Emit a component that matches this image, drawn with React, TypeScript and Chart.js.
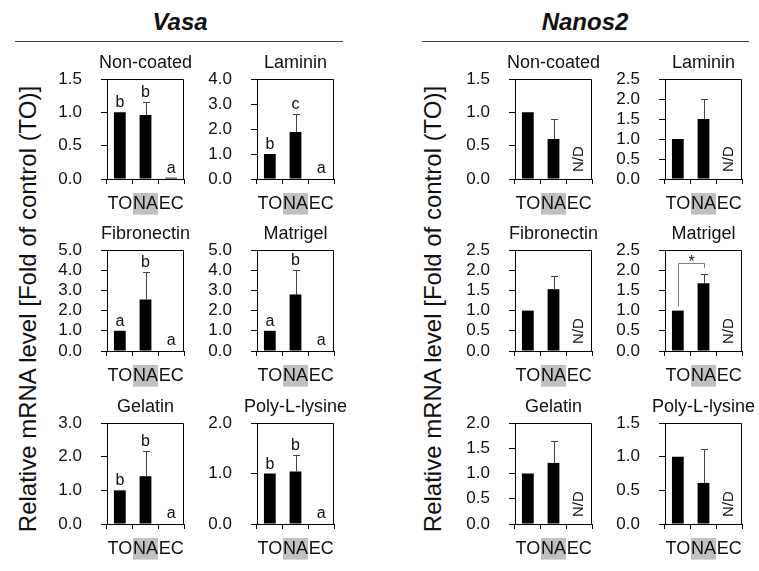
import React, { useEffect, useRef } from "react";
import { Chart, registerables } from "chart.js";

Chart.register(...registerables);

const FONT = "Arial, 'Liberation Sans', Helvetica, sans-serif";

// ---------- data ----------
const categories = ["TO", "NA", "EC"];

const panelTitles = ["Non-coated", "Laminin", "Fibronectin", "Matrigel", "Gelatin", "Poly-L-lysine"];

// Vasa
const vasaNonCoated = [1.0, 0.96, 0.02];
const vasaNonCoatedErr = [0, 0.19, 0];
const vasaNonCoatedNotes = ["b", "b", "a"];

const vasaLaminin = [1.0, 1.88, 0];
const vasaLamininErr = [0, 0.74, 0];
const vasaLamininNotes = ["b", "c", "a"];

const vasaFibronectin = [1.0, 2.55, 0];
const vasaFibronectinErr = [0, 1.35, 0];
const vasaFibronectinNotes = ["a", "b", "a"];

const vasaMatrigel = [1.0, 2.8, 0];
const vasaMatrigelErr = [0, 1.2, 0];
const vasaMatrigelNotes = ["a", "b", "a"];

const vasaGelatin = [1.0, 1.42, 0];
const vasaGelatinErr = [0, 0.76, 0];
const vasaGelatinNotes = ["b", "b", "a"];

const vasaPolyLysine = [1.0, 1.04, 0];
const vasaPolyLysineErr = [0, 0.33, 0];
const vasaPolyLysineNotes = ["b", "b", "a"];

// Nanos2
const nanosNonCoated = [1.0, 0.6, 0];
const nanosNonCoatedErr = [0, 0.3, 0];

const nanosLaminin = [1.0, 1.5, 0];
const nanosLamininErr = [0, 0.5, 0];

const nanosFibronectin = [1.0, 1.53, 0];
const nanosFibronectinErr = [0, 0.32, 0];

const nanosMatrigel = [1.0, 1.68, 0];
const nanosMatrigelErr = [0, 0.22, 0];
const nanosMatrigelBracket = [0, 1, 2.17]; // from TO to NA, at level 2.17, "*"

const nanosGelatin = [1.0, 1.21, 0];
const nanosGelatinErr = [0, 0.43, 0];

const nanosPolyLysine = [1.0, 0.61, 0];
const nanosPolyLysineErr = [0, 0.51, 0];

const nanosNotes = ["", "", "N/D"];

// axis maxima and tick steps [max, step]
const vasaAxes = [[1.5, 0.5], [4, 1], [5, 1], [5, 1], [3, 1], [2, 1]];
const nanosAxes = [[1.5, 0.5], [2.5, 0.5], [2.5, 0.5], [2.5, 0.5], [2, 0.5], [1.5, 0.5]];

// ---------- layout ----------
const COL_LEFT = [107, 257, 515, 665];
const ROW_TOP = [79, 250, 423];
const ROW_H = [100, 101, 101];
const PLOT_W = 77;
const PAD_L = 60;
const PAD_T = 34;
const PAD_R = 16;
const PAD_B = 44;

type PanelProps = {
  title: string;
  values: number[];
  errors: number[];
  notes: string[];
  yMax: number;
  yStep: number;
  bracket?: number[];
  plotLeft: number;
  plotTop: number;
  plotH: number;
};

function Panel(p: PanelProps) {
  const ref = useRef<HTMLCanvasElement | null>(null);
  const width = PAD_L + PLOT_W + PAD_R;
  const height = PAD_T + p.plotH + PAD_B;

  useEffect(() => {
    if (!ref.current) return;
    const decor = {
      id: "panelDecor",
      afterDraw(chart: any) {
        const ctx = chart.ctx as CanvasRenderingContext2D;
        const area = chart.chartArea;
        const ys = chart.scales.y;
        const meta = chart.getDatasetMeta(0);
        ctx.save();
        // frame top and right
        ctx.strokeStyle = "#000";
        ctx.lineWidth = 1;
        const t = Math.round(area.top) + 0.5;
        const r = Math.round(area.right) - 0.5;
        ctx.beginPath();
        ctx.moveTo(area.left, t);
        ctx.lineTo(r, t);
        ctx.lineTo(r, area.bottom);
        ctx.stroke();
        // title
        ctx.fillStyle = "#111";
        ctx.font = `18px ${FONT}`;
        ctx.textAlign = "center";
        ctx.textBaseline = "middle";
        ctx.fillText(p.title, (area.left + area.right) / 2, area.top - 16);
        // error bars
        ctx.strokeStyle = "#444";
        ctx.lineWidth = 1;
        p.values.forEach((v, i) => {
          const e = p.errors[i];
          if (!e) return;
          const x = Math.round(meta.data[i].x) + 0.5;
          const y0 = ys.getPixelForValue(v);
          const y1 = Math.round(ys.getPixelForValue(v + e)) + 0.5;
          ctx.beginPath();
          ctx.moveTo(x, y0);
          ctx.lineTo(x, y1);
          ctx.moveTo(x - 3.5, y1);
          ctx.lineTo(x + 3.5, y1);
          ctx.stroke();
        });
        // notes
        ctx.fillStyle = "#111";
        p.notes.forEach((n, i) => {
          if (!n) return;
          const x = meta.data[i].x;
          if (n === "N/D") {
            ctx.save();
            ctx.font = `15px ${FONT}`;
            ctx.translate(x, area.bottom - 7);
            ctx.rotate(-Math.PI / 2);
            ctx.textAlign = "left";
            ctx.textBaseline = "middle";
            ctx.fillText(n, 0, 0);
            ctx.restore();
          } else {
            ctx.font = `16px ${FONT}`;
            ctx.textAlign = "center";
            ctx.textBaseline = "alphabetic";
            const y = ys.getPixelForValue(p.values[i] + p.errors[i]) - 5;
            ctx.fillText(n, x, Math.min(y, area.bottom - 6));
          }
        });
        // significance bracket
        if (p.bracket) {
          const [a, b, level] = p.bracket;
          const x1 = Math.round(meta.data[a].x) + 0.5;
          const x2 = Math.round(meta.data[b].x) + 0.5;
          const yb = Math.round(ys.getPixelForValue(level)) + 0.5;
          const ya = ys.getPixelForValue(p.values[a] + p.errors[a]) - 4;
          const yc = ys.getPixelForValue(p.values[b] + p.errors[b]) - 6;
          ctx.strokeStyle = "#808080";
          ctx.beginPath();
          ctx.moveTo(x1, ya);
          ctx.lineTo(x1, yb);
          ctx.lineTo(x2, yb);
          ctx.lineTo(x2, yc);
          ctx.stroke();
          ctx.fillStyle = "#111";
          ctx.font = `16px ${FONT}`;
          ctx.textAlign = "center";
          ctx.textBaseline = "alphabetic";
          ctx.fillText("*", (x1 + x2) / 2, yb + 3);
        }
        ctx.restore();
      },
    };

    const chart = new Chart(ref.current, {
      type: "bar",
      data: {
        labels: categories,
        datasets: [
          {
            data: p.values,
            backgroundColor: "#000",
            borderWidth: 0,
            barPercentage: 0.46,
            categoryPercentage: 1,
          },
        ],
      },
      options: {
        animation: false,
        responsive: false,
        maintainAspectRatio: false,
        devicePixelRatio: 1,
        layout: { padding: { left: 0, top: PAD_T, right: PAD_R, bottom: 0 } },
        plugins: {
          legend: { display: false },
          tooltip: { enabled: false },
          title: { display: false },
        },
        scales: {
          x: {
            type: "category",
            offset: true,
            grid: {
              offset: true,
              drawOnChartArea: false,
              drawTicks: true,
              tickLength: 5,
              color: "#000",
              lineWidth: 1,
            },
            border: { display: true, color: "#000", width: 1 },
            ticks: {
              font: { family: FONT, size: 18 },
              color: "#111",
              padding: 9,
              maxRotation: 0,
              autoSkip: false,
              showLabelBackdrop: (c: any) => c.index === 1,
              backdropColor: "#c0c0c0",
              backdropPadding: 0,
            } as any,
            afterFit: (s: any) => {
              s.height = PAD_B;
            },
          },
          y: {
            min: 0,
            max: p.yMax,
            ticks: {
              stepSize: p.yStep,
              autoSkip: false,
              callback: (v: any) => Number(v).toFixed(1),
              font: { family: FONT, size: 17, lineHeight: 1 },
              color: "#111",
              padding: 19,
            },
            grid: {
              drawOnChartArea: false,
              drawTicks: true,
              tickLength: 6,
              color: "#000",
              lineWidth: 1,
            },
            border: { display: true, color: "#000", width: 1 },
            afterFit: (s: any) => {
              s.width = PAD_L;
            },
          },
        },
      },
      plugins: [decor],
    } as any);
    return () => chart.destroy();
  }, []);

  return (
    <canvas
      ref={ref}
      width={width}
      height={height}
      style={{
        position: "absolute",
        left: p.plotLeft - PAD_L,
        top: p.plotTop - PAD_T,
        width,
        height,
      }}
    />
  );
}

const vasaValues = [vasaNonCoated, vasaLaminin, vasaFibronectin, vasaMatrigel, vasaGelatin, vasaPolyLysine];
const vasaErrors = [vasaNonCoatedErr, vasaLamininErr, vasaFibronectinErr, vasaMatrigelErr, vasaGelatinErr, vasaPolyLysineErr];
const vasaNotes = [vasaNonCoatedNotes, vasaLamininNotes, vasaFibronectinNotes, vasaMatrigelNotes, vasaGelatinNotes, vasaPolyLysineNotes];
const nanosValues = [nanosNonCoated, nanosLaminin, nanosFibronectin, nanosMatrigel, nanosGelatin, nanosPolyLysine];
const nanosErrors = [nanosNonCoatedErr, nanosLamininErr, nanosFibronectinErr, nanosMatrigelErr, nanosGelatinErr, nanosPolyLysineErr];

function buildPanels(): (PanelProps & { key: string })[] {
  const out: (PanelProps & { key: string })[] = [];
  for (let i = 0; i < 6; i++) {
    const row = Math.floor(i / 2);
    const col = i % 2;
    out.push({
      key: "v" + i,
      title: panelTitles[i],
      values: vasaValues[i],
      errors: vasaErrors[i],
      notes: vasaNotes[i],
      yMax: vasaAxes[i][0],
      yStep: vasaAxes[i][1],
      plotLeft: COL_LEFT[col],
      plotTop: ROW_TOP[row],
      plotH: ROW_H[row],
    });
    out.push({
      key: "n" + i,
      title: panelTitles[i],
      values: nanosValues[i],
      errors: nanosErrors[i],
      notes: nanosNotes,
      yMax: nanosAxes[i][0],
      yStep: nanosAxes[i][1],
      bracket: i === 3 ? nanosMatrigelBracket : undefined,
      plotLeft: COL_LEFT[col + 2],
      plotTop: ROW_TOP[row],
      plotH: ROW_H[row],
    });
  }
  return out;
}

const yTitle = "Relative mRNA level [Fold of control (TO)]";

export default function App() {
  const panels = buildPanels();
  const header: React.CSSProperties = {
    position: "absolute",
    top: 22,
    transform: "translate(-50%, -50%)",
    fontWeight: "bold",
    fontStyle: "italic",
    fontSize: 24,
    lineHeight: 1,
    whiteSpace: "nowrap",
  };
  const yTitleStyle: React.CSSProperties = {
    position: "absolute",
    top: 309,
    transform: "translate(-50%, -50%) rotate(-90deg)",
    fontSize: 24,
    lineHeight: 1,
    whiteSpace: "nowrap",
  };
  return (
    <div
      style={{
        position: "fixed",
        left: 0,
        top: 0,
        width: 759,
        height: 571,
        background: "#fff",
        overflow: "hidden",
        fontFamily: FONT,
        color: "#111",
      }}
    >
      <div style={{ ...header, left: 180 }}>Vasa</div>
      <div style={{ ...header, left: 585 }}>Nanos2</div>
      <div style={{ position: "absolute", left: 15, top: 41, width: 328, borderTop: "1.5px solid #444" }} />
      <div style={{ position: "absolute", left: 422, top: 41, width: 327, borderTop: "1.5px solid #444" }} />
      <div style={{ ...yTitleStyle, left: 28 }}>{yTitle}</div>
      <div style={{ ...yTitleStyle, left: 433 }}>{yTitle}</div>
      {panels.map(({ key, ...p }) => (
        <Panel key={key} {...p} />
      ))}
    </div>
  );
}
